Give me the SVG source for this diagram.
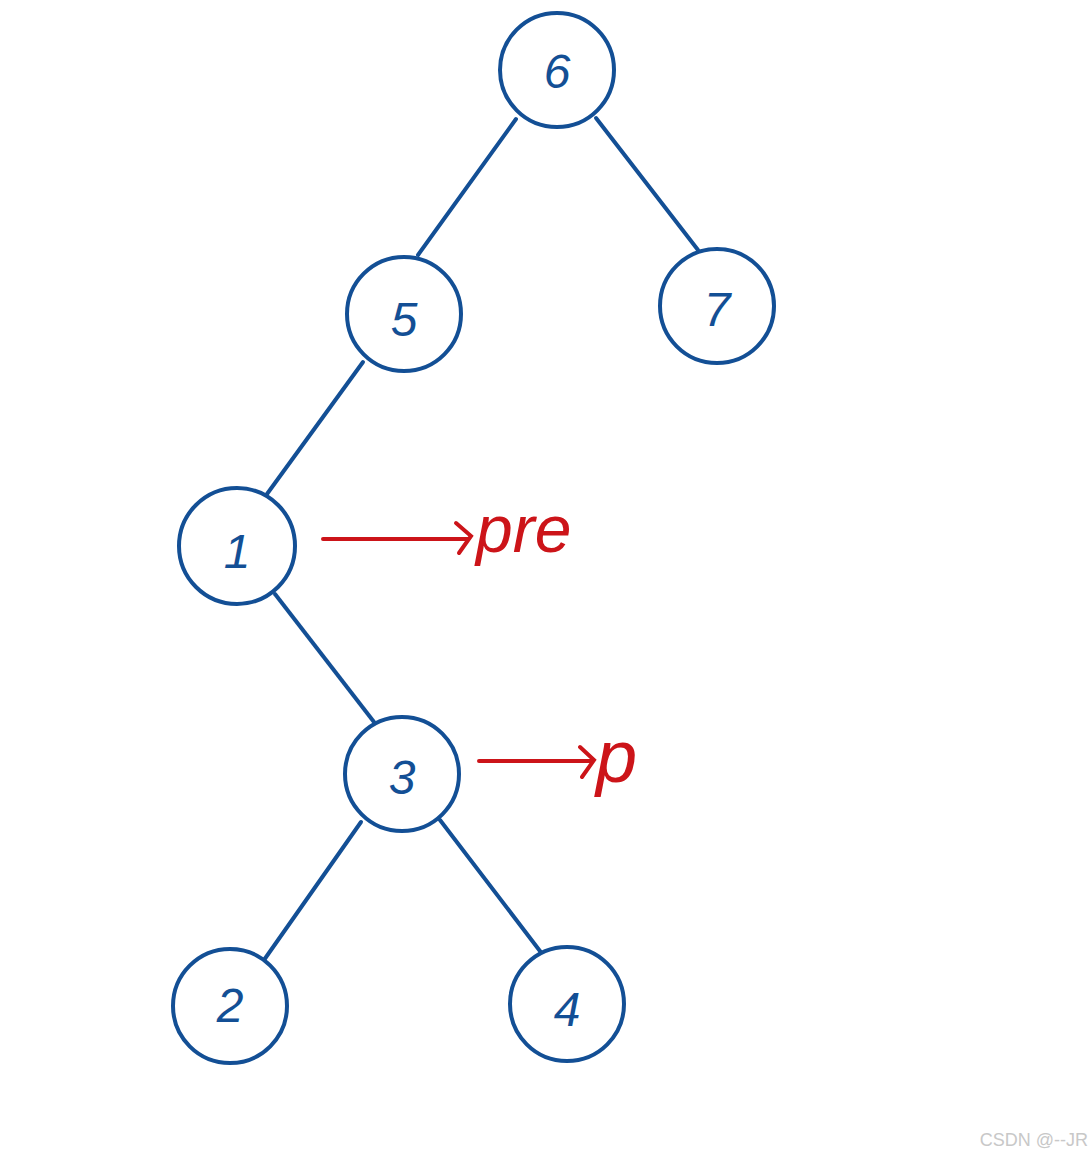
<svg xmlns="http://www.w3.org/2000/svg" width="1092" height="1156" viewBox="0 0 1092 1156">
<style>
.n{fill:#fff;stroke:#134f95;stroke-width:4}
.t{font-family:"Liberation Sans",Arial,sans-serif;font-size:48px;fill:#134f95;text-anchor:middle;font-style:italic}
.e{stroke:#134f95;stroke-width:4;stroke-linecap:round}
.r{stroke:#cc1419;stroke-width:4;stroke-linecap:round;fill:none}
.rt{font-family:"Liberation Sans",Arial,sans-serif;fill:#cc1419;font-style:italic}
</style>
<rect width="1092" height="1156" fill="#fff"/>
<g id="connectors">
<line class="e" x1="516" y1="119" x2="418" y2="255"/>
<line class="e" x1="596" y1="118" x2="698" y2="250"/>
<line class="e" x1="363" y1="362" x2="267" y2="494"/>
<line class="e" x1="275" y1="594" x2="374" y2="722"/>
<line class="e" x1="361" y1="822" x2="264" y2="960"/>
<line class="e" x1="440" y1="820" x2="543" y2="955"/>
<path class="r" d="M323 539 H468 M456 523 L471 536 L459 553"/>
<path class="r" d="M479 761 H592 M580 747 L594 760 L582 777"/>
</g>
<g id="node6"><circle class="n" cx="557" cy="70" r="57"/><text class="t" x="557" y="88">6</text></g>
<g id="node5"><circle class="n" cx="404" cy="314" r="57"/><text class="t" x="404" y="336">5</text></g>
<g id="node7"><circle class="n" cx="717" cy="306" r="57"/><text class="t" x="717" y="326">7</text></g>
<g id="node1"><circle class="n" cx="237" cy="546" r="58"/><text class="t" x="237" y="568">1</text></g>
<g id="node3"><circle class="n" cx="402" cy="774" r="57"/><text class="t" x="402" y="794">3</text></g>
<g id="node2"><circle class="n" cx="230" cy="1006" r="57"/><text class="t" x="230" y="1022">2</text></g>
<g id="node4"><circle class="n" cx="567" cy="1004" r="57"/><text class="t" x="567" y="1026">4</text></g>
<text class="rt" x="476" y="552" style="font-size:66px">pre</text>
<text class="rt" x="596" y="782" style="font-size:74px">p</text>
<text x="1088" y="1146" font-family="Liberation Sans,Arial,sans-serif" font-size="18" fill="#c8c8c8" text-anchor="end">CSDN @--JR</text>
</svg>
